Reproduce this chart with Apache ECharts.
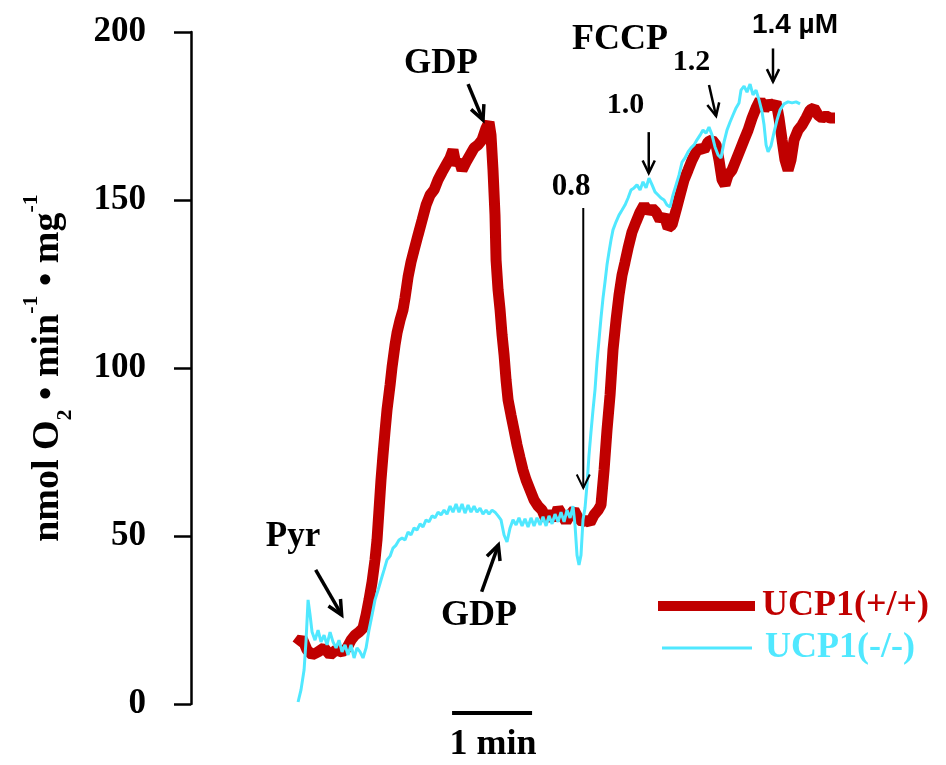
<!DOCTYPE html>
<html>
<head>
<meta charset="utf-8">
<script src="https://cdn.jsdelivr.net/npm/echarts@6.0.0/dist/echarts.min.js"></script>
<style>
  html, body { margin: 0; padding: 0; background: #fff; }
  #chart { width: 946px; height: 765px; }
</style>
</head>
<body>
<div id="chart"></div>
<script>
// time in seconds (60 s = the "1 min" bar), rate in nmol O2 / min / mg
const wtTime = [1.5,5.3,9,12.8,17.3,21.8,26.3,30.8,35.3,39,42,45,48,51,53.3,55.5,57.8,60,61.5,63,64.5,66,67.5,69,71.3,72.8,75,76.5,78.8,81,82.5,84.8,87,89.3,92.3,95.3,98.3,101.3,104.3,107.3,110.3,113.3,116.3,118.5,120.8,123,125.3,128.3,131.3,134.3,137.3,140.3,143.3,145.5,147,148.5,150,150.8,152.3,153.8,155.3,156.8,158.3,159.8,162,164.3,166.5,168.8,171,173.3,176.3,179.3,182.3,185.3,188.3,191.3,194.3,197.3,200.3,203.3,206.3,209.3,212.3,215.3,218.3,221.3,224.3,227.3,229.5,231.8,234,236.3,238.5,240.8,243,245.3,247.5,249.8,252.8,255.8,258.8,261.8,264.8,267.8,270.8,273.8,276.8,279.8,282.8,285.8,288.8,291.8,294.8,297.8,300.8,303.8,306.8,309.8,312.8,315.8,318,320.3,322.5,324.8,327.8,330.8,333.8,336.8,339.8,342.8,345.8,348.8,351.8,354.8,357.8,360.8,363,365.3,367.5,369.8,372,374.3,377.3,380.3,383.3,386.3,389.3,392.3,395.3,398.3,401.3,405];
const wtRate = [17.6,19.6,16.1,14.6,15.5,16.7,14.6,16.1,15.5,16.7,19.0,20.5,21.4,22.6,26.5,31.0,36.3,42.9,48.8,57.7,66.7,74.1,81.0,87.5,94.9,100.3,106.8,110.4,114.3,117.3,120.8,127.1,131.5,135.1,139.6,144.0,148.5,151.5,153.0,156.0,158.3,160.4,162.5,164.9,160.4,161.9,158.9,161.3,163.4,165.5,166.4,167.9,171.4,173.2,169.3,158.9,145.5,132.1,123.2,117.3,109.8,103.9,96.4,90.5,86.0,81.5,77.1,73.2,69.6,66.7,63.7,60.7,58.9,57.7,54.8,57.1,54.8,58.3,56.3,54.2,56.3,57.7,55.4,54.2,54.8,53.9,56.3,57.7,59.2,69.6,81.5,92.0,105.4,114.3,121.7,127.7,131.5,135.7,140.5,143.5,146.4,148.5,146.4,147.6,146.4,144.0,145.5,141.7,142.6,147.0,151.5,156.0,158.9,161.9,164.3,165.5,164.9,167.3,167.9,166.4,161.9,156.0,154.5,157.4,158.9,161.9,164.9,167.9,170.8,174.4,177.4,179.8,176.8,179.2,177.4,179.2,174.4,167.9,161.9,158.9,161.9,167.9,170.8,172.3,174.4,176.8,177.4,175.3,174.4,175.0,174.4,174.4];

const koTime = [2.3,4.5,6.8,8.3,9.8,11.3,12.8,15,17.3,19.5,21.8,24,26.3,28.5,30.8,33,35.3,37.5,39.8,42,44.3,46.5,48.8,51,53.3,55.5,57.8,60,62.3,64.5,66.8,69,71.3,73.5,75.8,78,80.3,82.5,84.8,87,89.3,91.5,93.8,96,98.3,100.5,102.8,105,107.3,109.5,111.8,114,116.3,118.5,120.8,123,125.3,127.5,129.8,132,134.3,136.5,138.8,141,143.3,145.5,147.8,150,152.3,154.5,156.8,159,161.3,163.5,165.8,168,170.3,172.5,174.8,177,179.3,181.5,183.8,186,188.3,190.5,192.8,195,197.3,199.5,201.8,204,206.3,208.5,210,211.5,213,214.5,216,217.5,219,220.5,222,223.5,225,226.5,228,229.5,231,232.5,234,235.5,237,238.5,240.8,243,245.3,247.5,249.8,252,254.3,256.5,258.8,261,263.3,265.5,267.8,270,272.3,274.5,276.8,279,281.3,283.5,285.8,288,290.3,292.5,294.8,297,299.3,301.5,303.8,306,308.3,310.5,312.8,315,317.3,319.5,321.8,324,326.3,328.5,330.8,333,334.5,336.8,339,341.3,343.5,345.8,348,350.3,351.8,353.3,354.8,357,359.3,361.5,363.8,366.8,369.8,372.8,375.8,378.8];
const koRate = [0.6,4.2,10.1,19.0,31.0,26.5,21.4,19.0,22.0,18.5,20.5,17.6,21.4,18.5,16.7,19.0,15.5,17.6,14.6,17.6,13.7,16.7,15.5,13.7,16.7,22.0,26.5,31.0,33.9,36.9,39.9,42.9,44.0,46.4,47.3,48.8,49.4,48.8,51.2,50.3,52.4,51.8,53.6,52.7,54.8,54.2,56.0,55.4,57.1,56.3,57.7,56.5,58.9,57.1,59.5,57.1,59.5,56.8,59.2,57.1,58.9,57.1,58.3,56.5,57.7,56.5,57.7,57.1,56.0,54.8,50.3,48.2,52.4,54.8,53.3,55.4,53.0,55.1,52.7,55.4,53.0,55.4,53.3,55.7,53.0,56.0,53.6,56.5,54.2,57.1,54.2,57.7,55.4,58.9,53.3,44.3,41.4,44.3,54.8,58.3,65.2,74.1,81.0,87.5,93.5,101.8,108.3,114.9,120.8,125.6,130.7,134.5,138.1,141.1,143.5,145.5,147.0,148.5,150.6,153.0,153.6,154.5,153.0,155.4,153.6,156.5,154.5,152.4,151.5,150.6,150.0,148.5,147.9,151.5,154.5,157.4,161.3,162.5,164.3,165.5,166.4,167.9,169.3,170.8,169.9,171.7,169.3,165.8,163.4,162.5,167.3,170.8,173.2,175.3,177.4,178.9,182.7,183.9,182.1,184.5,181.3,182.7,179.8,176.2,172.3,166.4,164.3,166.1,170.2,173.8,176.8,178.6,179.2,178.9,179.2,178.6];

const yTicks = [0, 50, 100, 150, 200];

// annotations, placed in data coordinates [time, rate]
const labelNotes = [
  { text: 'Pyr', at: [-1.5, 49.7], size: 35 },
  { text: 'GDP', at: [109.5, 190.5], size: 35 },
  { text: 'GDP', at: [138, 26.2], size: 36 },
  { text: '0.8', at: [207, 153.9], size: 31 },
  { text: 'FCCP', at: [243.8, 197.6], size: 36 },
  { text: '1.0', at: [247.9, 178.3], size: 30 },
  { text: '1.2', at: [297.4, 191], size: 30 },
  { text: '1.4 µM', at: [375, 202], size: 28, sans: true },
  { text: '1 min', at: [148.5, -12.2], size: 36 }
];
const arrowNotes = [
  { from: [15.5, 39.9], to: [35, 26.5], w: 3.5, head: 16 },
  { from: [129.8, 184.5], to: [141, 173.8], w: 3.5, head: 16 },
  { from: [140, 33.4], to: [152.5, 47.3], w: 3.5, head: 16 },
  { from: [216.2, 147.6], to: [216.2, 64.3], w: 2, head: 15 },
  { from: [265.3, 170.2], to: [265.3, 158], w: 2.5, head: 14 },
  { from: [310.5, 184.2], to: [315.8, 175], w: 2.5, head: 14 },
  { from: [358.5, 195.1], to: [358.5, 185.2], w: 2.5, head: 14 }
];
const scaleBar = { from: [117.8, -2.7], to: [177.8, -2.7] };

const RED = '#C00000';
const CYAN = '#50E8FF';
const SERIF = '"Liberation Serif", "Times New Roman", serif';
const SANS = '"Liberation Sans", Arial, sans-serif';

const zip = (xs, ys) => xs.map((x, i) => [x, ys[i]]);

const chart = echarts.init(document.getElementById('chart'));

chart.setOption({
  animation: false,
  grid: { left: 295, right: 91, top: 32, bottom: 61 },
  xAxis: { type: 'value', min: 0, max: 420, show: false },
  yAxis: {
    type: 'value',
    min: yTicks[0],
    max: yTicks[yTicks.length - 1],
    interval: yTicks[1] - yTicks[0],
    offset: 104,
    axisLine: { show: true, onZero: false, lineStyle: { color: '#000', width: 2.5 } },
    axisTick: { show: true, length: 17, lineStyle: { color: '#000', width: 2.5 } },
    splitLine: { show: false },
    axisLabel: { margin: 45, color: '#000', fontFamily: SERIF, fontWeight: 'bold', fontSize: 35 },
    name: 'nmol O{sub|2} • min{sup|-1} • mg{sup|-1}',
    nameLocation: 'middle',
    nameRotate: 90,
    nameGap: 115,
    nameTextStyle: {
      color: '#000', fontFamily: SERIF, fontWeight: 'bold', fontSize: 38, lineHeight: 56,
      rich: {
        sub: { color: '#000', fontFamily: SERIF, fontWeight: 'bold', fontSize: 22, lineHeight: 22, verticalAlign: 'bottom' },
        sup: { color: '#000', fontFamily: SERIF, fontWeight: 'bold', fontSize: 22, lineHeight: 22, verticalAlign: 'top' }
      }
    }
  },
  legend: [
    {
      data: ['UCP1(+/+)'], left: 658, top: 588, padding: 0, icon: 'rect',
      itemWidth: 97, itemHeight: 10,
      textStyle: { color: RED, fontFamily: SERIF, fontWeight: 'bold', fontSize: 36, padding: [0, 0, 0, 2] }
    },
    {
      data: ['UCP1(-/-)'], left: 662, top: 630, padding: 0, icon: 'rect',
      itemWidth: 90, itemHeight: 3,
      textStyle: { color: CYAN, fontFamily: SERIF, fontWeight: 'bold', fontSize: 36, padding: [0, 0, 0, 8] }
    }
  ],
  series: [
    {
      name: 'UCP1(+/+)', type: 'line', data: zip(wtTime, wtRate),
      showSymbol: false, color: RED,
      lineStyle: { color: RED, width: 11 }
    },
    {
      name: 'UCP1(-/-)', type: 'line', data: zip(koTime, koRate),
      showSymbol: false, color: CYAN,
      lineStyle: { color: CYAN, width: 3 }
    }
  ]
});

const toPx = (p) => chart.convertToPixel({ gridIndex: 0 }, p);

function headPoints(p1, p2, len) {
  const a = Math.atan2(p2[1] - p1[1], p2[0] - p1[0]);
  const h = 0.45;
  return [
    [p2[0] - len * Math.cos(a - h), p2[1] - len * Math.sin(a - h)],
    p2,
    [p2[0] - len * Math.cos(a + h), p2[1] - len * Math.sin(a + h)]
  ];
}

const graphics = [];
labelNotes.forEach(n => {
  const p = toPx(n.at);
  graphics.push({
    type: 'text', x: p[0], y: p[1], z: 100,
    style: {
      text: n.text, fill: '#000',
      font: 'bold ' + n.size + 'px ' + (n.sans ? SANS : SERIF),
      align: 'center', verticalAlign: 'middle',
      textAlign: 'center', textVerticalAlign: 'middle'
    }
  });
});
arrowNotes.forEach(a => {
  const p1 = toPx(a.from), p2 = toPx(a.to);
  graphics.push({
    type: 'line', z: 100,
    shape: { x1: p1[0], y1: p1[1], x2: p2[0], y2: p2[1] },
    style: { stroke: '#000', lineWidth: a.w }
  });
  graphics.push({
    type: 'polyline', z: 100,
    shape: { points: headPoints(p1, p2, a.head) },
    style: { stroke: '#000', lineWidth: a.w, fill: null }
  });
});
const b1 = toPx(scaleBar.from), b2 = toPx(scaleBar.to);
graphics.push({
  type: 'line', z: 100,
  shape: { x1: b1[0], y1: b1[1], x2: b2[0], y2: b2[1] },
  style: { stroke: '#000', lineWidth: 4 }
});

chart.setOption({ graphic: graphics });
</script>
</body>
</html>
